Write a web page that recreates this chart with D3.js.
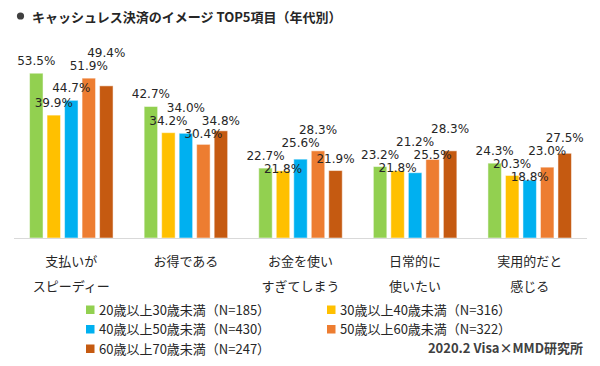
<!DOCTYPE html>
<html>
<head>
<meta charset="utf-8">
<script src="https://cdn.jsdelivr.net/npm/d3@7"></script>
<style>
  body { margin: 0; background: #fff; }
  text { font-family: "Noto Sans CJK JP", "Noto Sans", sans-serif; }
  text.val { font-family: "DejaVu Sans", Verdana, sans-serif; }
</style>
</head>
<body>
<script>
const w = 600;
const h = 366;

const categories = [
  ["支払いが", "スピーディー"],
  ["お得である"],
  ["お金を使い", "すぎてしまう"],
  ["日常的に", "使いたい"],
  ["実用的だと", "感じる"]
];
const seriesNames = [
  "20歳以上30歳未満（N=185）",
  "30歳以上40歳未満（N=316）",
  "40歳以上50歳未満（N=430）",
  "50歳以上60歳未満（N=322）",
  "60歳以上70歳未満（N=247）"
];
const age20 = [53.5, 42.7, 22.7, 23.2, 24.3];
const age30 = [39.9, 34.2, 21.8, 21.8, 20.3];
const age40 = [44.7, 34.0, 25.6, 21.2, 18.8];
const age50 = [51.9, 30.4, 28.3, 25.5, 23.0];
const age60 = [49.4, 34.8, 21.9, 28.3, 27.5];
const colors = ["#92d050", "#ffc000", "#00b0f0", "#ed7d31", "#c55a11"];

const seriesValues = [age20, age30, age40, age50, age60];

const svg = d3.select("body").append("svg").attr("width", w).attr("height", h);

// title
svg.append("circle").attr("cx", 20.5).attr("cy", 16).attr("r", 3.6).attr("fill", "#404040");
svg.append("text")
  .attr("x", 32).attr("y", 16)
  .attr("dominant-baseline", "central")
  .attr("font-size", 13).attr("font-weight", "bold").attr("fill", "#262626")
  .text("キャッシュレス決済のイメージ TOP5項目（年代別）");

const baseY = 238;
const x0 = d3.scaleBand().domain(d3.range(categories.length)).range([14, 587]);
const inner = 83.5;
const x1 = d3.scaleBand().domain(d3.range(seriesValues.length))
  .range([(x0.bandwidth() - inner) / 2, (x0.bandwidth() + inner) / 2])
  .paddingInner(0.23);
const y = d3.scaleLinear().domain([0, 60]).range([baseY, baseY - 184.8]);

const labelW = 38;
const labelGap = 13;

// place each label above its bar, nudging it off any label already placed
function placeLabels(vals) {
  const placed = [];
  vals.forEach((v, i) => {
    const cx = x1(i) + x1.bandwidth() / 2;
    const want = y(v) - 12;
    const hits = (c) => placed.some((p) => Math.abs(p.cx - cx) < labelW - 1 && Math.abs(p.cy - c) < labelGap);
    const cands = [want];
    placed.forEach((p) => cands.push(p.cy - labelGap, p.cy + labelGap));
    let best = null;
    let bestCost = Infinity;
    cands.forEach((c) => {
      if (hits(c)) return;
      const cost = c > want ? (c - want) * 1.5 : want - c;
      if (cost < bestCost) { bestCost = cost; best = c; }
    });
    placed.push({ cx, cy: best === null ? want : best });
  });
  return placed;
}

const groups = svg.selectAll("g.grp")
  .data(categories)
  .enter()
  .append("g")
  .attr("class", "grp")
  .attr("transform", (d, i) => `translate(${x0(i)},0)`);

groups.each(function (cat, gi) {
  const g = d3.select(this);
  const vals = seriesValues.map((s) => s[gi]);

  g.selectAll("rect")
    .data(vals)
    .enter()
    .append("rect")
    .attr("x", (d, i) => x1(i))
    .attr("y", (d) => y(d))
    .attr("width", x1.bandwidth())
    .attr("height", (d) => baseY - y(d))
    .attr("fill", (d, i) => colors[i])
    .attr("stroke", "#fff")
    .attr("stroke-opacity", 0.5)
    .attr("stroke-width", 1);

  const pos = placeLabels(vals);

  g.selectAll("text.val")
    .data(vals)
    .enter()
    .append("text")
    .attr("class", "val")
    .attr("x", (d, i) => pos[i].cx)
    .attr("y", (d, i) => pos[i].cy)
    .attr("text-anchor", "middle")
    .attr("dominant-baseline", "central")
    .attr("font-size", 12)
    .attr("fill", "#262626")
    .text((d) => d.toFixed(1) + "%");

  g.selectAll("text.cat")
    .data(cat)
    .enter()
    .append("text")
    .attr("class", "cat")
    .attr("x", x0.bandwidth() / 2)
    .attr("y", (d, i) => 260 + i * 25.5)
    .attr("text-anchor", "middle")
    .attr("dominant-baseline", "central")
    .attr("font-size", 13)
    .attr("fill", "#262626")
    .text((d) => d);
});

svg.append("line")
  .attr("x1", 14).attr("x2", 587)
  .attr("y1", baseY + 0.5).attr("y2", baseY + 0.5)
  .attr("stroke", "#d9d9d9").attr("stroke-width", 1);

// legend, two columns
const legend = svg.selectAll("g.leg")
  .data(seriesNames)
  .enter()
  .append("g")
  .attr("class", "leg")
  .attr("transform", (d, i) => `translate(${i % 2 === 0 ? 86 : 327},${309 + Math.floor(i / 2) * 19.5})`);

legend.append("rect")
  .attr("x", 0).attr("y", -3.5)
  .attr("width", 8.5).attr("height", 8.5)
  .attr("fill", (d, i) => colors[i]);

legend.append("text")
  .attr("x", 13).attr("y", 0)
  .attr("dominant-baseline", "central")
  .attr("font-size", 13)
  .attr("fill", "#262626")
  .text((d) => d);

svg.append("text")
  .attr("x", 583).attr("y", 347)
  .attr("text-anchor", "end")
  .attr("dominant-baseline", "central")
  .attr("font-size", 13).attr("font-weight", "bold").attr("fill", "#404040")
  .text("2020.2 Visa×MMD研究所");
</script>
</body>
</html>
